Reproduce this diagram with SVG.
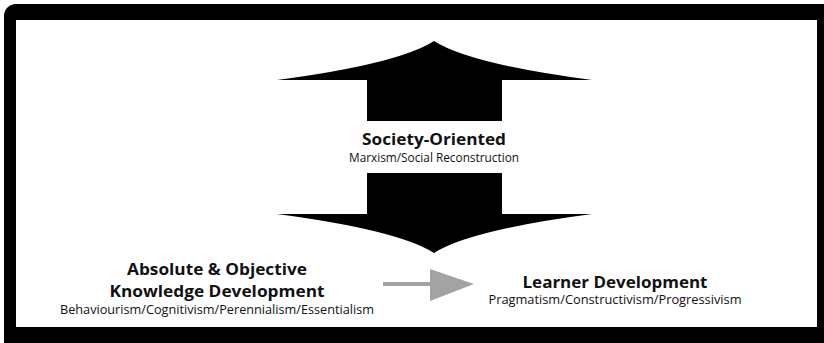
<svg xmlns="http://www.w3.org/2000/svg" width="824" height="343" viewBox="0 0 824 343">
<style>
.t{font-family:"Open Sans","Liberation Sans",sans-serif;fill:#111;text-anchor:middle}
.b{font-weight:bold;font-size:15.5px}
.s{font-size:12.5px}
</style>
<g id="frame">
<rect x="4" y="4" width="840" height="360" rx="12" fill="#000"/>
<rect x="16" y="20" width="801" height="307" fill="#fff"/>
</g>
<g id="connectors">
<path id="up-arrow" d="M434,41 Q470,64 592,80 L502,80 L502,121 L367,121 L367,80 L277,80 Q398,64 434,41 Z" fill="#000"/>
<path id="down-arrow" d="M367,173 L502,173 L502,214 L592,214 Q470,230 434,253 Q398,230 277,214 L367,214 Z" fill="#000"/>
<g id="gray-arrow" fill="#a3a3a3">
<rect x="383" y="282" width="48" height="4"/>
<polygon points="430,269 474,284 430,301"/>
</g>
</g>
<g id="society">
<text class="t b" x="434" y="145" textLength="144" lengthAdjust="spacingAndGlyphs">Society-Oriented</text>
<text class="t s" x="434" y="162" textLength="170" lengthAdjust="spacingAndGlyphs">Marxism/Social Reconstruction</text>
</g>
<g id="absolute">
<text class="t b" x="217" y="275" textLength="180" lengthAdjust="spacingAndGlyphs">Absolute &amp; Objective</text>
<text class="t b" x="217" y="297" textLength="215" lengthAdjust="spacingAndGlyphs">Knowledge Development</text>
<text class="t s" x="217" y="314" textLength="314" lengthAdjust="spacingAndGlyphs">Behaviourism/Cognitivism/Perennialism/Essentialism</text>
</g>
<g id="learner">
<text class="t b" x="615" y="288" textLength="185" lengthAdjust="spacingAndGlyphs">Learner Development</text>
<text class="t s" x="615" y="304" textLength="253" lengthAdjust="spacingAndGlyphs">Pragmatism/Constructivism/Progressivism</text>
</g>
</svg>
